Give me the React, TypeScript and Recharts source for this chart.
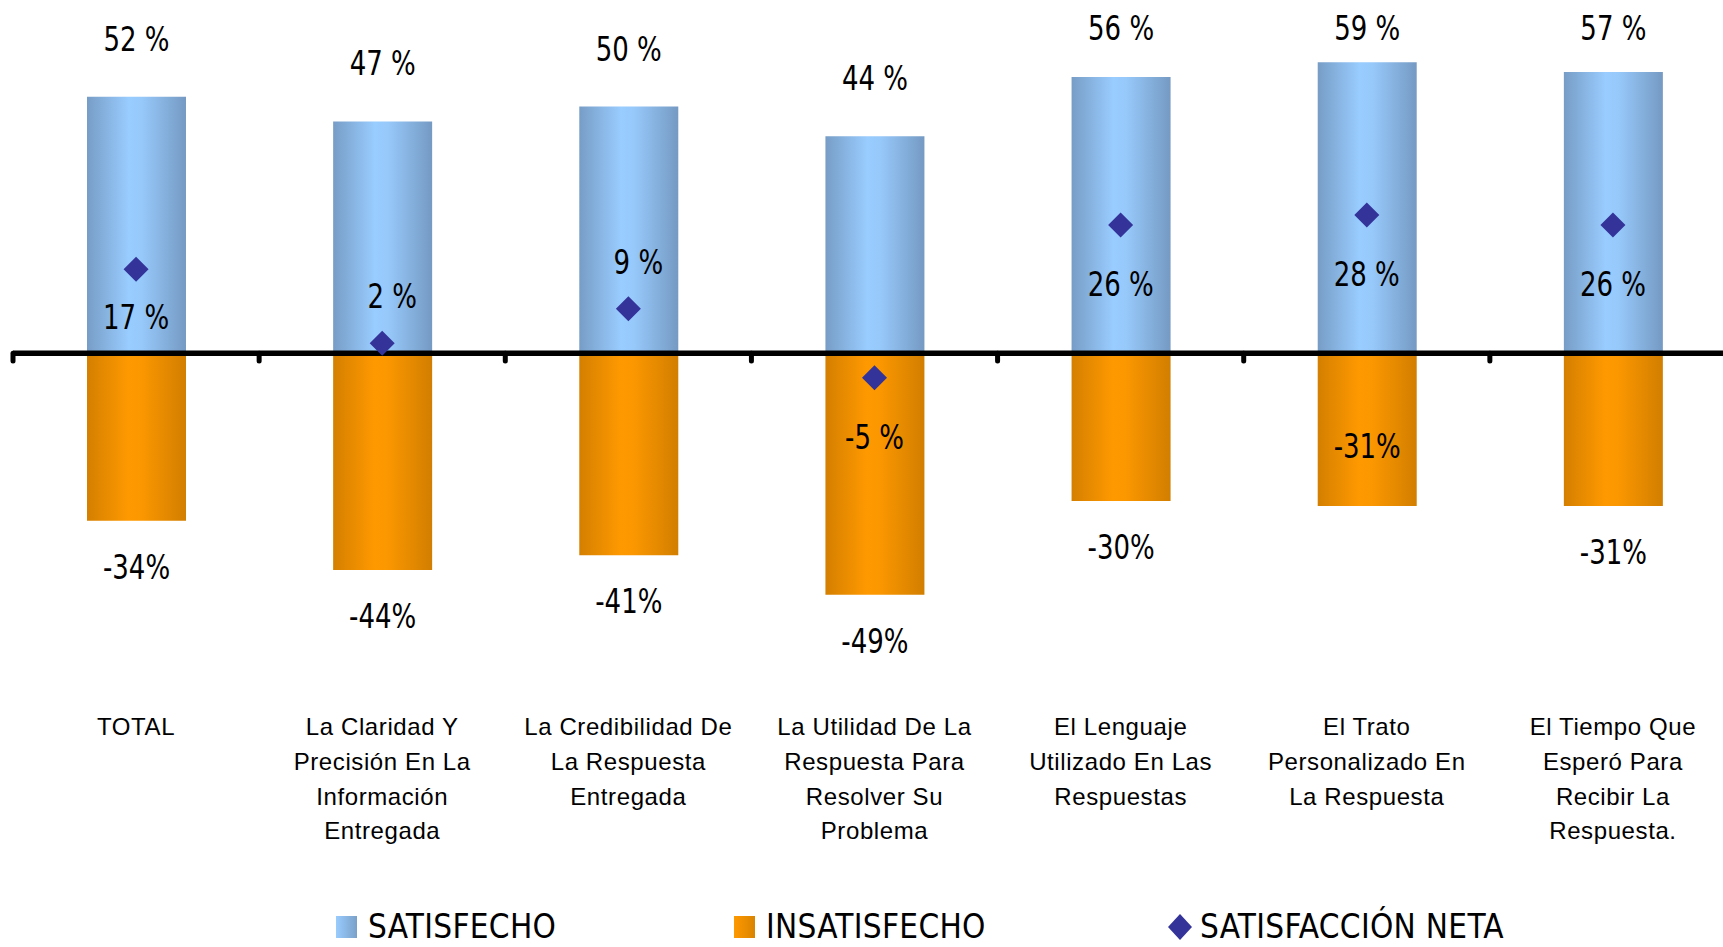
import { ComposedChart, Bar, Scatter, XAxis, YAxis, ReferenceLine, LabelList, Legend } from 'recharts';

const categories = [
  'TOTAL',
  'La Claridad Y\nPrecisión En La\nInformación\nEntregada',
  'La Credibilidad De\nLa Respuesta\nEntregada',
  'La Utilidad De La\nRespuesta Para\nResolver Su\nProblema',
  'El Lenguaje\nUtilizado En Las\nRespuestas',
  'El Trato\nPersonalizado En\nLa Respuesta',
  'El Tiempo Que\nEsperó Para\nRecibir La\nRespuesta.',
];
const satisfecho = [52, 47, 50, 44, 56, 59, 57];
const insatisfecho = [-34, -44, -41, -49, -30, -31, -31];
const satisfaccionNeta = [17, 2, 9, -5, 26, 28, 26];

// where Excel had the labels dragged to
const netLabelPlacement = ['belowTight', 'above', 'above', 'below', 'below', 'below', 'below'];
const insatLabelInside = [false, false, false, false, false, true, false];

const data = categories.map((name, i) => ({
  name,
  sat: satisfecho[i],
  insat: insatisfecho[i],
  net: satisfaccionNeta[i],
}));

const NARROW = "'Liberation Sans Narrow', 'DejaVu Sans Condensed', 'Arial Narrow', sans-serif";
const SANS = "'Liberation Sans', Arial, sans-serif";

const CategoryTick = ({ x, y, payload }: any) => {
  const lines = String(payload.value).split('\n');
  return (
    <text x={x} y={y} textAnchor="middle" fontFamily={SANS} fontSize={24} letterSpacing={0.6} fill="#000">
      {lines.map((l, i) => (
        <tspan key={i} x={x} y={y + 84 + i * 34.8}>{l}</tspan>
      ))}
    </text>
  );
};

// condensed number label, squeezed horizontally like Arial Narrow
const NumText = ({ x, y, children }: any) => (
  <g transform={`translate(${x},${y}) scale(0.85,1)`}>
    <text x={0} y={0} textAnchor="middle" fontFamily={NARROW} fontSize={34} fill="#000">
      {children}
    </text>
  </g>
);

const SatLabel = ({ x, y, width, height, value }: any) => {
  const top = Math.min(y, y + height);
  return <NumText x={x + width / 2} y={Math.max(top - 46, 40)}>{`${value} %`}</NumText>;
};

const InsatLabel = ({ x, y, width, height, value, index }: any) => {
  const bottom = Math.max(y, y + height);
  const ly = insatLabelInside[index] ? bottom - 48 : bottom + 58;
  return <NumText x={x + width / 2} y={ly}>{`${value}%`}</NumText>;
};

const Diamond = ({ cx, cy, index, payload }: any) => {
  const r = 12.5;
  const p = netLabelPlacement[index];
  const ly = p === 'above' ? cy - 35 : p === 'belowTight' ? cy + 60 : cy + 71;
  const lx = p === 'above' ? cx + 10 : cx;
  return (
    <g>
      <polygon points={`${cx},${cy - r} ${cx + r},${cy} ${cx},${cy + r} ${cx - r},${cy}`} fill="#333399" />
      <NumText x={lx} y={ly}>{`${payload.net} %`}</NumText>
    </g>
  );
};

const legendItems = [
  { label: 'SATISFECHO', kind: 'bar', bg: 'linear-gradient(to right, #99CCFF, #7AA0C8)', left: 323 },
  { label: 'INSATISFECHO', kind: 'bar', bg: 'linear-gradient(to right, #FF9900, #D98300)', left: 721 },
  { label: 'SATISFACCIÓN NETA', kind: 'diamond', bg: '#333399', left: 1155 },
];

const LegendContent = () => (
  <div style={{ position: 'relative', width: 1700, height: 50 }}>
    {legendItems.map((it) => (
      <div key={it.label} style={{ position: 'absolute', left: it.left, top: 14, height: 32, display: 'flex', alignItems: 'center' }}>
        {it.kind === 'bar' ? (
          <div style={{ width: 21, height: 22, background: it.bg }} />
        ) : (
          <svg width={24} height={26}>
            <polygon points="12,0 24,13 12,26 0,13" fill={it.bg} />
          </svg>
        )}
        <span
          style={{
            marginLeft: it.kind === 'bar' ? 11 : 8,
            fontFamily: NARROW,
            fontSize: 33,
            lineHeight: '32px',
            letterSpacing: 0.3,
            color: '#000',
          }}
        >
          {it.label}
        </span>
      </div>
    ))}
  </div>
);

export default function App() {
  return (
    <div style={{ position: 'absolute', left: 0, top: 0, width: 1723, height: 947, background: '#fff' }}>
      <ComposedChart
        width={1723}
        height={947}
        data={data}
        stackOffset="sign"
        margin={{ top: 8, right: -13, bottom: 0, left: 13 }}
      >
        <defs>
          <linearGradient id="grad-sat" x1="0" y1="0" x2="1" y2="0">
            <stop offset="0%" stopColor="#779DC6" />
            <stop offset="42%" stopColor="#99CCFF" />
            <stop offset="55%" stopColor="#97C9FB" />
            <stop offset="100%" stopColor="#759AC3" />
          </linearGradient>
          <linearGradient id="grad-insat" x1="0" y1="0" x2="1" y2="0">
            <stop offset="0%" stopColor="#D47F00" />
            <stop offset="42%" stopColor="#FF9900" />
            <stop offset="55%" stopColor="#FB9700" />
            <stop offset="100%" stopColor="#D27E00" />
          </linearGradient>
        </defs>
        <XAxis dataKey="name" height={248} axisLine={false} tickLine={false} tickSize={0} tick={<CategoryTick />} interval={0} />
        <YAxis hide domain={[-60, 70]} allowDataOverflow />
        <Bar dataKey="sat" stackId="a" barSize={99} fill="url(#grad-sat)" isAnimationActive={false}>
          <LabelList dataKey="sat" content={<SatLabel />} />
        </Bar>
        <Bar dataKey="insat" stackId="a" barSize={99} fill="url(#grad-insat)" isAnimationActive={false}>
          <LabelList dataKey="insat" content={<InsatLabel />} />
        </Bar>
        <ReferenceLine y={0} stroke="#000" strokeWidth={5.5} />
        {categories.map((c) => (
          <ReferenceLine
            key={c}
            position="start"
            segment={[{ x: c, y: 0 }, { x: c, y: -1.6 }]}
            stroke="#000"
            strokeWidth={5}
            strokeLinecap="round"
          />
        ))}
        <Scatter dataKey="net" shape={<Diamond />} isAnimationActive={false} />
        <Legend verticalAlign="bottom" height={50} content={<LegendContent />} wrapperStyle={{ margin: 0, padding: 0 }} />
      </ComposedChart>
    </div>
  );
}
